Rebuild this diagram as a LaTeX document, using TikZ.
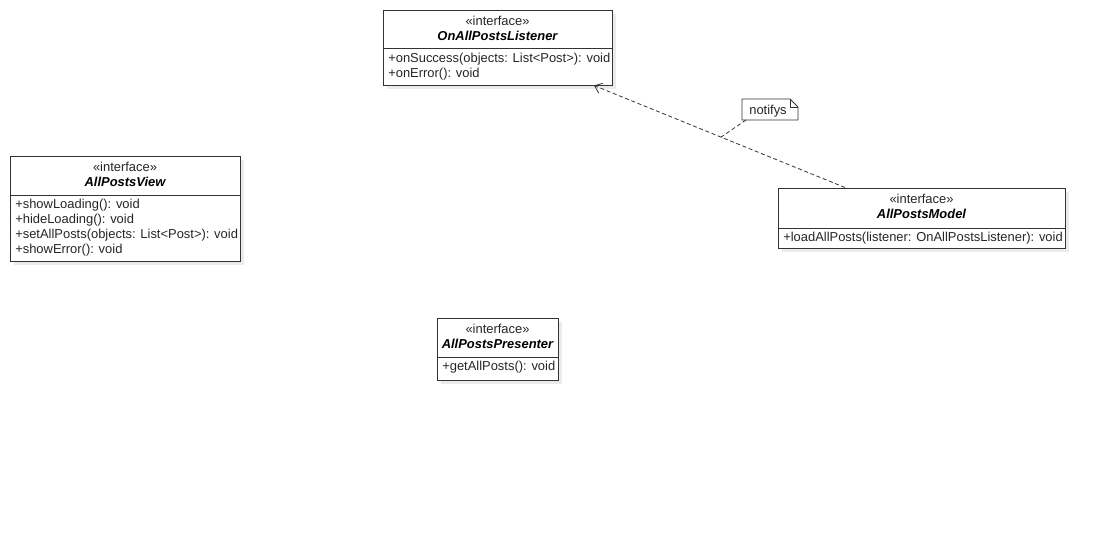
\documentclass[tikz,border=0pt]{standalone}
\usepackage{fontspec}
\setmainfont{Liberation Sans}
\usetikzlibrary{arrows.meta,calc}
\begin{document}
\begin{tikzpicture}[x=0.75pt,y=-0.75pt,
  font=\fontsize{9.7pt}{11.25pt}\selectfont,
  boxline/.style={draw=black!80,line width=0.75pt},
  shadowbox/.style={fill=black!8,draw=none},
  stereo/.style={inner sep=0pt,anchor=center,text=black!85},
  cname/.style={inner sep=0pt,anchor=center,font=\fontsize{9.7pt}{11.25pt}\selectfont\bfseries\itshape},
  member/.style={inner sep=0pt,anchor=west,text=black!85},
  notelink/.style={draw=black!80,line width=0.6pt,dash pattern=on 3pt off 2pt}]
\useasboundingbox (0,0) rectangle (1105,551);

% a class box: shadow, frame and compartment divider
\newcommand{\umlbox}[6]{% name, left, top, right, bottom, divider
  \fill[shadowbox] (#2+4,#3+4) rectangle (#4+4,#5+4);
  \node[boxline,fill=white,inner sep=0pt,minimum width={(#4-#2)*0.75pt},minimum height={(#5-#3)*0.75pt}] (#1) at ({(#2+#4)/2},{(#3+#5)/2}) {};
  \draw[boxline] (#2,#6) -- (#4,#6);
}

% OnAllPostsListener
\umlbox{listener}{383}{10}{612}{85}{48}
\node[stereo] (listenerst) at (497.5,21) {«interface»};
\node[cname] (listenernm) at (497.5,36) {OnAllPostsListener};
\node[member] (listenerm1) at (388,59) {+onSuccess(objects: List<Post>): void};
\node[member] (listenerm2) at (388,74) {+onError(): void};

% AllPostsView
\umlbox{view}{10}{156}{240}{261}{195}
\node[stereo] (viewst) at (125,167) {«interface»};
\node[cname] (viewnm) at (125,182) {AllPostsView};
\node[member] (viewm1) at (15,205) {+showLoading(): void};
\node[member] (viewm2) at (15,220) {+hideLoading(): void};
\node[member] (viewm3) at (15,235) {+setAllPosts(objects: List<Post>): void};
\node[member] (viewm4) at (15,250) {+showError(): void};

% AllPostsModel
\umlbox{model}{778}{188}{1065}{248}{228}
\node[stereo] (modelst) at (921.5,199) {«interface»};
\node[cname] (modelnm) at (921.5,214) {AllPostsModel};
\node[member] (modelm1) at (783,238) {+loadAllPosts(listener: OnAllPostsListener): void};

% AllPostsPresenter
\umlbox{presenter}{437}{318}{558}{380}{357}
\node[stereo] (presenterst) at (497.5,329) {«interface»};
\node[cname] (presenternm) at (497.5,344) {AllPostsPresenter};
\node[member] (presenterm1) at (442,367) {+getAllPosts(): void};

% dependency from the model to the listener
\coordinate (depstart) at (845,187.5);
\coordinate (depend) at (594,85.5);
\draw[notelink,-{Straight Barb[length=5pt,width=8pt]}] (depstart) -- (depend);

% note with folded corner
\coordinate (noteanchor) at ($(depstart)!0.494!(depend)$);
\draw[boxline,line width=0.7pt,fill=white] (742,99) -- (790,99) -- (798,107) -- (798,120) -- (742,120) -- cycle;
\draw[boxline,line width=0.7pt] (790,99) -- (790,107) -- (798,107);
\node[stereo] (note) at (768,111) {notifys};
\draw[notelink] (746,120) -- (noteanchor);
\end{tikzpicture}
\end{document}
